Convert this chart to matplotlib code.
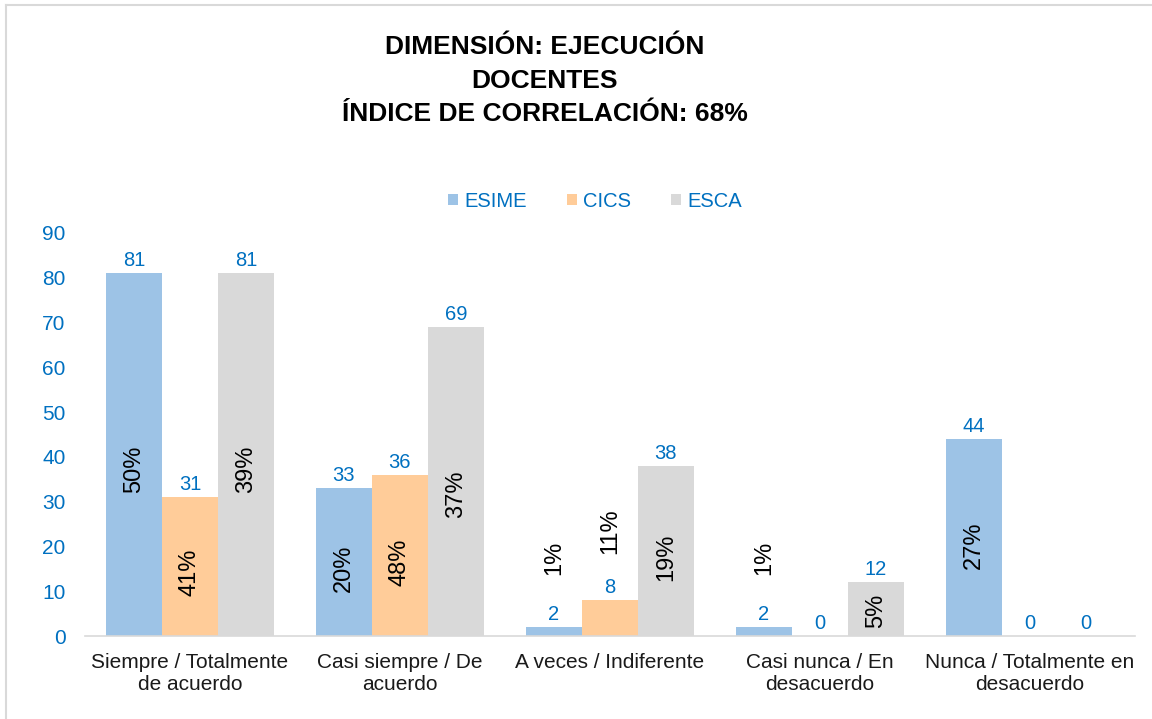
import numpy as np
import matplotlib.pyplot as plt
from matplotlib.lines import Line2D
from matplotlib.patches import Patch

plt.rcParams['font.family'] = ['Liberation Sans', 'DejaVu Sans']

# Datos
categorias = ['Siempre / Totalmente\nde acuerdo', 'Casi siempre / De\nacuerdo',
              'A veces / Indiferente', 'Casi nunca / En\ndesacuerdo',
              'Nunca / Totalmente en\ndesacuerdo']
series = ['ESIME', 'CICS', 'ESCA']
esime = [81, 33, 2, 2, 44]
cics = [31, 36, 8, 0, 0]
esca = [81, 69, 38, 12, 0]
pct_esime = ['50%', '20%', '1%', '1%', '27%']
pct_cics = ['41%', '48%', '11%', '', '']
pct_esca = ['39%', '37%', '19%', '5%', '']

colores = ['#9DC3E6', '#FFCC99', '#D9D9D9']
azul = '#0070C0'

fig = plt.figure(figsize=(11.52, 7.19), dpi=100)
ax = fig.add_axes([0.0738, 0.1154, 0.9112, 0.5606])

x = np.arange(len(categorias))
w = 0.267
valores = [esime, cics, esca]
pcts = [pct_esime, pct_cics, pct_esca]

for i, (vals, pc, col) in enumerate(zip(valores, pcts, colores)):
    pos = x + (i - 1) * w
    ax.bar(pos, vals, width=w, color=col, edgecolor='none')
    for xp, v, p in zip(pos, vals, pc):
        # valor sobre la barra
        ax.annotate(str(v), (xp, v), xytext=(0, 9), textcoords='offset points',
                    ha='center', va='center', color=azul, fontsize=14.5)
        if p:
            # porcentaje dentro de la barra, o encima si la barra es baja
            if v >= 10:
                yp = v * 0.46
            else:
                yp = v + 15.5
            ax.text(xp, yp, p, rotation=90, ha='center', va='center',
                    fontsize=17, color='black')

ax.set_xlim(-0.5, len(categorias) - 0.5)
ax.set_ylim(0, 90)
ax.set_yticks(np.arange(0, 91, 10))
ax.set_xticks(x)
ax.set_xticklabels(categorias, fontsize=15, color='#1a1a1a', linespacing=1.2)
ax.tick_params(axis='y', length=0, labelcolor=azul, labelsize=15, pad=14)
ax.tick_params(axis='x', length=0, pad=12)
for s in ['top', 'right', 'left']:
    ax.spines[s].set_visible(False)
ax.spines['bottom'].set_color('#D9D9D9')
ax.spines['bottom'].set_linewidth(1.2)

# Leyenda
handles = [Patch(facecolor=c, edgecolor='none') for c in colores]
leg = fig.legend(handles, series, loc='center', bbox_to_anchor=(0.5165, 0.72),
                 ncol=3, frameon=False, fontsize=14.5, handlelength=0.5,
                 handleheight=0.5, handletextpad=0.3, columnspacing=2.0)
for t in leg.get_texts():
    t.set_color(azul)

# Titulo
fig.text(0.473, 0.934, 'DIMENSIÓN: EJECUCIÓN', ha='center', va='center',
         fontsize=19, fontweight='bold')
fig.text(0.473, 0.888, 'DOCENTES', ha='center', va='center',
         fontsize=19, fontweight='bold')
fig.text(0.473, 0.841, 'ÍNDICE DE CORRELACIÓN: 68%', ha='center', va='center',
         fontsize=19, fontweight='bold')

# Borde del area del grafico
fig.add_artist(Line2D([0.005, 0.005], [0, 0.993], transform=fig.transFigure,
                      color='#D9D9D9', lw=1.5))
fig.add_artist(Line2D([0.005, 1], [0.993, 0.993], transform=fig.transFigure,
                      color='#D9D9D9', lw=1.5))

plt.savefig('out.png', dpi=100)
